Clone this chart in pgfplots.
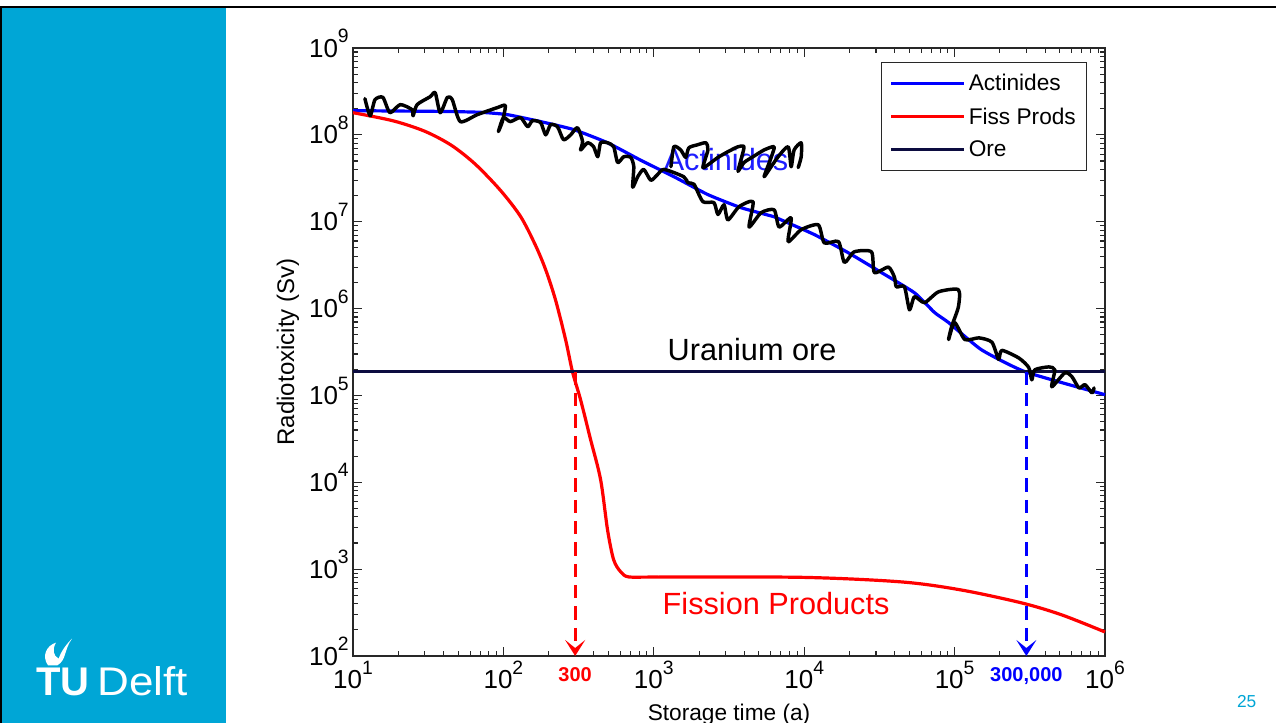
\documentclass[border=0pt]{standalone}
\usepackage{fontspec}
\setmainfont{Liberation Sans}
\usepackage{graphicx}
\usepackage{pgfplots}
\pgfplotsset{compat=1.18}
\usetikzlibrary{arrows.meta}
\definecolor{tudcyan}{RGB}{0,166,214}
\definecolor{orecol}{RGB}{12,12,64}
\definecolor{axgray}{RGB}{40,40,40}
\definecolor{actblue}{RGB}{30,30,255}
\newcommand{\pw}[1]{10\raisebox{0.55em}{\fontsize{14.5}{14.5}\selectfont #1}}

\begin{document}
\begin{tikzpicture}
\path[use as bounding box] (0,0) rectangle (957pt,-542.25pt);
\clip (0,0) rectangle (957pt,-542.25pt);
\fill[white] (0,0) rectangle (957pt,-542.25pt);
\fill[tudcyan] (0,-5.5pt) rectangle (169.5pt,-542.25pt);
\fill[black] (0,-4.5pt) rectangle (957pt,-6pt);
\fill[black] (0,-4.5pt) rectangle (1.8pt,-542.25pt);
% logo
\fill[white] (36pt,-499pt) .. controls (31pt,-492pt) and (35pt,-484pt) .. (42pt,-482pt) .. controls (39pt,-487pt) and (40pt,-492pt) .. (44pt,-494pt) .. controls (46pt,-488pt) and (50pt,-483pt) .. (54pt,-479pt) .. controls (48pt,-487pt) and (50pt,-495pt) .. (43pt,-499pt) -- cycle;
\node[anchor=base west, inner sep=0pt, text=white, font=\fontsize{30}{32}\selectfont\bfseries] at (27pt,-521.25pt) {TU};
\node[anchor=base west, inner sep=0pt, text=white, font=\fontsize{30}{32}\selectfont] at (72.75pt,-521.25pt) {\scalebox{1.1}[1]{Delft}};
\node[text=tudcyan, font=\fontsize{13}{15}\selectfont] at (935pt,-526.5pt) {25};

\begin{axis}[
  at={(264.75pt,-492pt)}, anchor=south west,
  width=564pt, height=456pt, scale only axis,
  xmode=log, ymode=log,
  xmin=10, xmax=1e6, ymin=100, ymax=1e9,
  xtick={10,100,1000,10000,100000,1000000},
  xticklabels={\pw{1},\pw{2},\pw{3},\pw{4},\pw{5},\pw{6}},
  ytick={1e2,1e3,1e4,1e5,1e6,1e7,1e8,1e9},
  yticklabels={\pw{2},\pw{3},\pw{4},\pw{5},\pw{6},\pw{7},\pw{8},\pw{9}},
  minor xtick={20,30,40,50,60,70,80,90,200,300,400,500,600,700,800,900,2000,3000,4000,5000,6000,7000,8000,9000,2e4,3e4,4e4,5e4,6e4,7e4,8e4,9e4,2e5,3e5,4e5,5e5,6e5,7e5,8e5,9e5},
  minor ytick={2e2,3e2,4e2,5e2,6e2,7e2,8e2,9e2,2e3,3e3,4e3,5e3,6e3,7e3,8e3,9e3,2e4,3e4,4e4,5e4,6e4,7e4,8e4,9e4,2e5,3e5,4e5,5e5,6e5,7e5,8e5,9e5,2e6,3e6,4e6,5e6,6e6,7e6,8e6,9e6,2e7,3e7,4e7,5e7,6e7,7e7,8e7,9e7,2e8,3e8,4e8,5e8,6e8,7e8,8e8,9e8},
  tick align=inside,
  major tick length=7pt, minor tick length=4pt,
  axis line style={axgray, line width=0.9pt},
  tick style={axgray, line width=0.8pt},
  tick label style={font=\fontsize{19.5}{19.5}\selectfont, text=black},
  xticklabel style={inner sep=2.5pt, yshift=-1pt},
  yticklabel style={yshift=3.5pt, inner sep=3pt},
  clip=false,
  xlabel={Storage time (a)}, ylabel={Radiotoxicity (Sv)},
  every axis x label/.style={at={(axis description cs:0.5,0)}, anchor=base, yshift=-48pt, font=\fontsize{17}{20}\selectfont},
  every axis y label/.style={at={(axis description cs:-0.0864,0.5)}, rotate=90, anchor=center, font=\fontsize{18}{20}\selectfont},
  legend style={at={(1,1)}, anchor=north east, xshift=-13.5pt, yshift=-10.5pt, draw=axgray, line width=0.8pt, fill=white, font=\fontsize{17}{19}\selectfont, row sep=7pt, inner xsep=6pt, inner ysep=7pt, cells={anchor=west}},
  legend image code/.code={\draw[#1] (0pt,0pt) -- (55pt,0pt);},
]
\addplot[blue, line width=2.4pt, smooth, tension=0.3] coordinates {
(10,1.9e8)(20,1.88e8)(40,1.86e8)(70,1.82e8)(106,1.71e8)(177,1.42e8)(293,1.15e8)(493,8.1e7)(819,5.1e7)(1360,3.3e7)(2290,2.05e7)(3800,1.45e7)(6310,1.14e7)(7030,1.05e7)(11700,7.1e6)(19600,4.4e6)(32600,2.6e6)(54100,1.52e6)(73600,9.0e5)(91200,6.9e5)(151000,3.35e5)(295000,1.87e5)(1000000,1.02e5)};
\addlegendentry{Actinides}
\addplot[red, line width=2.4pt, smooth, tension=0.5] coordinates {
(10,1.8e8)(18.5,1.45e8)(30,1.1e8)(45,7.6e7)(65,4.6e7)(95.5,2.3e7)(130,1.15e7)(163,5.4e6)(191,2.8e6)(222,1.26e6)(259,4.4e5)(288,1.87e5)(326,8.9e4)(380,3.1e4)(443,1.07e4)(493,2.8e3)(541,1.28e3)(603,930)(681,813)(1000,810)(9550,805)(44300,713)(111000,575)(280000,408)(517000,297)(1000000,189)};
\addlegendentry{Fiss Prods}
\addplot[orecol, line width=2.4pt] coordinates {(10,1.87e5)(1000000,1.87e5)};
\addlegendentry{Ore}

\addplot[red, line width=2.4pt, dash pattern=on 10pt off 6pt, -{Stealth[length=12pt,width=15pt,inset=6pt]}, forget plot] coordinates {(300,1.87e5)(300,100)};
\addplot[blue, line width=2.4pt, dash pattern=on 10pt off 6pt, -{Stealth[length=12pt,width=15pt,inset=6pt]}, forget plot] coordinates {(300000,1.87e5)(300000,100)};

\node[font=\fontsize{23}{25}\selectfont, text=actblue] at (axis cs:3020,5.2e7) {Actinides};
\node[font=\fontsize{23}{25}\selectfont, text=black] at (axis cs:4500,3.35e5) {Uranium ore};
\node[font=\fontsize{23}{25}\selectfont, text=red] at (axis cs:6500,397) {Fission Products};
\node[anchor=north, yshift=-5pt, font=\fontsize{15}{17}\selectfont\bfseries, text=red] at (axis cs:300,100) {300};
\node[anchor=north, yshift=-5pt, font=\fontsize{15}{17}\selectfont\bfseries, text=blue] at (axis cs:300000,100) {300,000};

\addplot[black, line width=2.6pt, line join=round, line cap=round, smooth, tension=0.4, forget plot] coordinates {
(12.0,2.61e8)(13.0,1.66e8)(14.0,2.54e8)(15.8,2.70e8)(17.6,1.80e8)(20.6,2.23e8)(24.7,1.95e8)(25.1,1.66e8)(26.7,2.23e8)(32.6,2.75e8)(35.2,3.06e8)(38.0,1.80e8)(42.4,2.70e8)(45.7,2.54e8)(51.7,1.42e8)(67.1,1.71e8)(91.2,2.06e8)(103,2.17e8)(98.4,1.42e8)(92.6,1.09e8)(100,1.58e8)(111,1.42e8)(130,1.58e8)(145,1.24e8)(156,1.46e8)(177,1.38e8)(191,1.00e8)(206,1.31e8)(229,1.24e8)(251,8.8e7)(280,1.0e8)(311,1.21e8)(336,8.4e7)(326,6.7e7)(363,8.1e7)(398,7.3e7)(424,5.6e7)(443,8.1e7)(493,8.1e7)(541,7.3e7)(575,4.8e7)(631,5.6e7)(703,5.5e7)(736,4.3e7)(724,2.5e7)(782,3.3e7)(857,4.0e7)(955,3.0e7)(1060,3.5e7)(1170,4.0e7)(1580,3.3e7)(1690,2.8e7)(1850,2.7e7)(2120,1.70e7)(2510,1.66e7)(2670,1.21e7)(2930,1.57e7)(3110,1.05e7)(3690,1.49e7)(4570,1.70e7)(4300,8.7e6)(5170,1.27e7)(6310,1.37e7)(6810,8.7e6)(8190,1.11e7)(7820,5.9e6)(9550,8.1e6)(12400,9.2e6)(13600,5.7e6)(16900,5.9e6)(18500,3.4e6)(21500,4.5e6)(28000,4.5e6)(29300,2.6e6)(36300,3.0e6)(39800,2.3e6)(41000,1.78e6)(46400,1.78e6)(50100,9.7e5)(54100,1.37e6)(63100,1.17e6)(78200,1.56e6)(106000,1.65e6)(106000,1.05e6)(95500,6.2e5)(91200,4.4e5)(100000,6.9e5)(117000,4.4e5)(145000,4.6e5)(177000,4.1e5)(196000,2.6e5)(206000,3.3e5)(267000,2.7e5)(311000,2.1e5)(326000,1.51e5)(341000,1.97e5)(423000,2.13e5)(464000,1.97e5)(443000,1.26e5)(541000,1.82e5)(603000,1.64e5)(671000,1.22e5)(736000,1.33e5)(819000,1.07e5)(845000,1.22e5)};
\addplot[black, line width=2.6pt, line join=round, line cap=round, smooth, tension=0.4, forget plot] coordinates {
(1300,4.3e7)(1360,7.3e7)(1510,6.7e7)(1630,5.5e7)(1710,7.1e7)(1960,7.7e7)(2220,8.1e7)(2290,6.7e7)(2120,4.2e7)(2400,4.8e7)(2670,5.5e7)(3110,6.4e7)(3630,7.3e7)(3980,7.3e7)(3800,5.2e7)(3630,3.8e7)(3980,4.8e7)(4570,5.6e7)(5410,6.7e7)(6310,7.3e7)(6030,5.5e7)(5410,3.3e7)(6030,4.3e7)(6710,5.6e7)(7820,7.3e7)(8190,4.3e7)(8570,6.7e7)(9550,8.1e7)(9550,5.6e7)(9120,4.2e7)};
\end{axis}
\end{tikzpicture}
\end{document}
